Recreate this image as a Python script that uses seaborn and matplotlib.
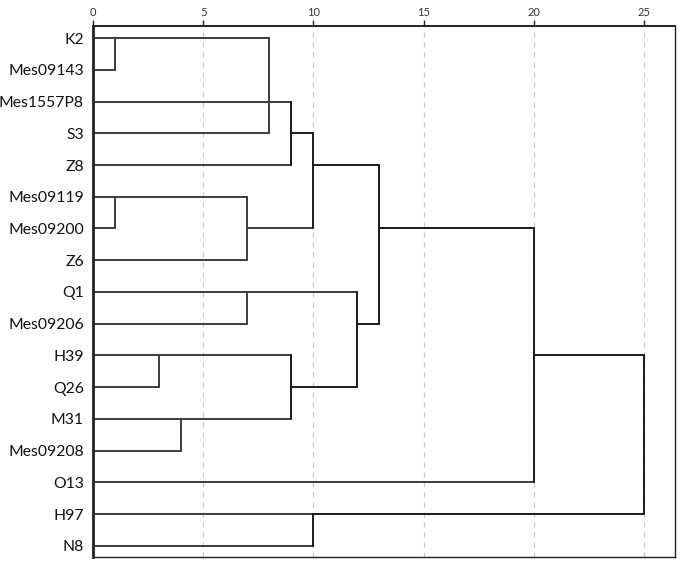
import matplotlib
matplotlib.use("Agg")
import matplotlib.pyplot as plt
import pandas as pd
import seaborn as sns

sns.set_theme(style="white")
plt.rcParams["font.family"] = ["Lato", "DejaVu Sans"]

# Leaves, top to bottom
labels = ["K2", "Mes09143", "Mes1557P8", "S3", "Z8", "Mes09119", "Mes09200",
          "Z6", "Q1", "Mes09206", "H39", "Q26", "M31", "Mes09208", "O13",
          "H97", "N8"]
# rescaled distance where each leaf line meets its first join
leaf_join = [1, 1, 9, 8, 9, 1, 1, 7, 7, 7, 3, 3, 4, 4, 20, 10, 10]

# joins as drawn: height, first row, last row, row the cluster continues on,
# height of the next join
join_height = [1, 1, 8, 9, 7, 10, 7, 3, 4, 9, 12, 10, 13, 20, 25]
join_top    = [0, 5, 0, 2, 5, 3, 8, 10, 12, 10, 8, 15, 4, 6, 10]
join_bottom = [1, 6, 3, 4, 7, 6, 9, 11, 13, 12, 11, 16, 9, 14, 15]
join_row    = [0, 5, 2, 3, 6, 4, 8, 10, 12, 11, 9, 15, 6, 10, None]
join_next   = [8, 7, 9, 10, 10, 13, 12, 9, 9, 12, 13, 25, 20, 25, None]

ticks = [0, 5, 10, 15, 20, 25]

# build segments
rows = []
seg = 0
for i, d in enumerate(leaf_join):
    rows += [(seg, 0, i, "leaf"), (seg, d, i, "leaf")]
    seg += 1
for h, t, b, r, n in zip(join_height, join_top, join_bottom, join_row, join_next):
    kind = "low" if h < 9 else "high"
    rows += [(seg, h, t, kind), (seg, h, b, kind)]
    seg += 1
    if r is not None:
        rows += [(seg, h, r, kind), (seg, n, r, kind)]
        seg += 1
segs = pd.DataFrame(rows, columns=["seg", "x", "y", "kind"])

fig = plt.figure(figsize=(6.83, 5.66), dpi=100)
ax = fig.add_axes([0.136, 0.016, 0.852, 0.938])

for x in ticks[1:]:
    ax.axvline(x, color="#c8c8c8", linestyle=(0, (4, 4)), linewidth=0.9, zorder=0)

sns.lineplot(data=segs, x="x", y="y", units="seg", hue="kind",
             palette={"leaf": "#3c3c3c", "low": "#3c3c3c", "high": "#1a1a1a"},
             estimator=None, sort=False, linewidth=1.4, legend=False, ax=ax)

ax.set_xlim(0, 26.4)
ax.set_ylim(16.35, -0.38)
ax.set_xticks(ticks)
ax.xaxis.tick_top()
ax.tick_params(axis="x", top=True, bottom=False, length=4, width=1,
               color="#222222", labelsize=8, labelcolor="#333333", pad=2)
ax.set_yticks(range(len(labels)))
ax.set_yticklabels(labels)
ax.tick_params(axis="y", left=False, labelsize=11.3, labelcolor="#111111", pad=0.5)
ax.set_xlabel("")
ax.set_ylabel("")
for side, sp in ax.spines.items():
    sp.set_color("#222222")
    sp.set_linewidth(1.0)
ax.spines["left"].set_linewidth(2.0)
ax.spines["top"].set_linewidth(1.4)

fig.savefig("out.png", dpi=100)
